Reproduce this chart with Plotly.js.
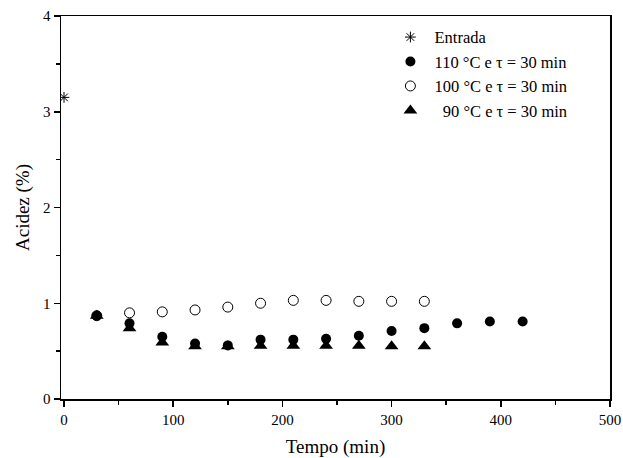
<!DOCTYPE html>
<html>
<head>
<meta charset="utf-8">
<script src="https://cdn.plot.ly/plotly-3.0.1.min.js"></script>
<style>html,body{margin:0;padding:0;background:#fff}</style>
</head>
<body>
<div id="chart" style="width:623px;height:458px"></div>
<script>
// Data
const entradaX = [0];
const entradaY = [3.15];

const t110 = [30, 60, 90, 120, 150, 180, 210, 240, 270, 300, 330, 360, 390, 420];
const a110 = [0.87, 0.79, 0.65, 0.58, 0.56, 0.62, 0.62, 0.63, 0.66, 0.71, 0.74, 0.79, 0.81, 0.81];

const t100 = [30, 60, 90, 120, 150, 180, 210, 240, 270, 300, 330];
const a100 = [0.87, 0.90, 0.91, 0.93, 0.96, 1.00, 1.03, 1.03, 1.02, 1.02, 1.02];

const t90 = [30, 60, 90, 120, 150, 180, 210, 240, 270, 300, 330];
const a90 = [0.87, 0.74, 0.59, 0.55, 0.55, 0.555, 0.555, 0.555, 0.555, 0.55, 0.55];

const labels = ["Entrada", "110 °C e τ = 30 min", "100 °C e τ = 30 min", "\u00a0\u00a090 °C e τ = 30 min"];

const pad = "\u00a0";
const font = "Liberation Serif, Times New Roman, serif";

const traces = [
  {x: entradaX, y: entradaY, name: pad + labels[0], mode: "markers", type: "scatter",
   marker: {symbol: "asterisk-open", size: 9, color: "#000", line: {color: "#000", width: 1}}},
  {x: t110, y: a110, name: pad + labels[1], mode: "markers", type: "scatter",
   marker: {symbol: "circle", size: 10, color: "#000"}},
  {x: t100, y: a100, name: pad + labels[2], mode: "markers", type: "scatter",
   marker: {symbol: "circle-open", size: 10, color: "#000", line: {color: "#000", width: 1}}},
  {x: t90, y: a90, name: pad + labels[3], mode: "markers", type: "scatter",
   marker: {symbol: "triangle-up", size: 12, color: "#000"}}
];

const layout = {
  width: 623, height: 458,
  margin: {l: 61, r: 13, t: 16, b: 59},
  paper_bgcolor: "#fff", plot_bgcolor: "#fff",
  font: {family: font, color: "#000", size: 15},
  showlegend: true,
  legend: {x: 0.6, y: 0.99, xanchor: "left", yanchor: "top",
           bgcolor: "rgba(0,0,0,0)", font: {family: font, size: 16.5, color: "#000"},
           tracegroupgap: 0},
  xaxis: {
    range: [-2.75, 500.01], showgrid: false, zeroline: false,
    showline: true, linecolor: "#000", linewidth: 1.5, mirror: true,
    ticks: "outside", ticklen: 6, tickwidth: 1.5, tickcolor: "#000",
    tick0: 0, dtick: 100, ticklabeloverflow: "allow",
    minor: {ticks: "outside", ticklen: 4, tickwidth: 1.5, tickcolor: "#000", dtick: 50, tick0: 0, showgrid: false},
    tickfont: {family: font, size: 15, color: "#000"},
    title: {text: "Tempo (min)", font: {family: font, size: 19, color: "#000"}, standoff: 13}
  },
  yaxis: {
    range: [0, 4], showgrid: false, zeroline: false,
    showline: true, linecolor: "#000", linewidth: 1.5, mirror: true,
    ticks: "outside", ticklen: 6, tickwidth: 1.5, tickcolor: "#000",
    tick0: 0, dtick: 1,
    minor: {ticks: "outside", ticklen: 4, tickwidth: 1.5, tickcolor: "#000", dtick: 0.5, tick0: 0, showgrid: false},
    tickfont: {family: font, size: 15, color: "#000"},
    title: {text: "Acidez (%)", font: {family: font, size: 19, color: "#000"}, standoff: 8}
  }
};

Plotly.newPlot("chart", traces, layout, {displayModeBar: false, staticPlot: true});
</script>
</body>
</html>
